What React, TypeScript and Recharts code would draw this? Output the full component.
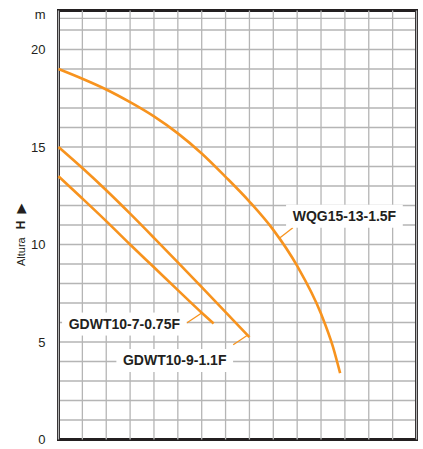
import {
  CartesianGrid,
  Line,
  LineChart,
  ReferenceArea,
  ReferenceDot,
  ReferenceLine,
  XAxis,
  YAxis,
} from "recharts";

// caudal steps (x) and altura H in m (y) for each pump curve
const wqgQ = [0, 1, 2, 3, 4, 5, 6, 7, 8, 9, 10, 11, 11.5, 11.8];
const wqgH = [19.0, 18.5, 17.95, 17.3, 16.57, 15.7, 14.67, 13.47, 12.2, 10.75, 8.9, 6.45, 4.75, 3.4];

const gd9Q = [0, 1, 2, 3, 4, 5, 6, 7, 8];
const gd9H = [15, 13.92, 12.78, 11.58, 10.34, 9.08, 7.81, 6.53, 5.25];

const gd7Q = [0, 1, 2, 3, 4, 5, 6, 6.5];
const gd7H = [13.5, 12.36, 11.2, 10.0, 8.83, 7.66, 6.5, 5.95];

const xTicks = [0, 1, 2, 3, 4, 5, 6, 7, 8, 9, 10, 11, 12, 13, 14, 15];
const yTicks = [0, 1, 2, 3, 4, 5, 6, 7, 8, 9, 10, 11, 12, 13, 14, 15, 16, 17, 18, 19, 20, 21, 21.6];
const yLabels = [0, 5, 10, 15, 20];
const unitLabel = "m";

const names = ["WQG15-13-1.5F", "GDWT10-9-1.1F", "GDWT10-7-0.75F"];

const ORANGE = "#f7931e";
const INK = "#231f20";
const GRID = "#b5b5b5";
const FONT = "'Liberation Sans', Arial, Helvetica, sans-serif";

const toPoints = (q: number[], h: number[]) => q.map((x, i) => ({ x, h: h[i] }));

const series = [
  { name: names[0], data: toPoints(wqgQ, wqgH) },
  { name: names[1], data: toPoints(gd9Q, gd9H) },
  { name: names[2], data: toPoints(gd7Q, gd7H) },
];

// callouts: label centre and leader segment, in data units
const callouts = [
  { text: names[0], at: [11.98, 11.45], leader: [[9.28, 10.35], [9.82, 10.86]] },
  { text: names[1], at: [4.87, 4.05], leader: [[7.32, 4.86], [7.95, 5.37]] },
  { text: names[2], at: [2.76, 5.92], leader: [[5.37, 5.97], [6.0, 6.49]] },
];

function YTick(props: any) {
  const { x, y, payload } = props;
  const v = payload.value;
  let txt = "";
  let dy = 0;
  if (v === 21.6) {
    txt = unitLabel;
    dy = -4;
  } else if (yLabels.includes(v)) {
    txt = String(v);
  }
  if (!txt) return null;
  return (
    <text x={x} y={y + dy} dy="0.35em" textAnchor="end" fontSize={13} fill={INK} fontFamily={FONT}>
      {txt}
    </text>
  );
}

function BoxLabel({ cx, cy, text }: { cx: number; cy: number; text: string }) {
  const w = text.length * 7.9 + 14;
  const h = 23;
  return (
    <g>
      <rect x={cx - w / 2} y={cy - h / 2} width={w} height={h} fill="#fff" />
      <text
        x={cx}
        y={cy}
        dy="0.35em"
        textAnchor="middle"
        fontSize={14}
        fontWeight="bold"
        fill={INK}
        fontFamily={FONT}
      >
        {text}
      </text>
    </g>
  );
}

function AxisTitle() {
  return (
    <text transform="translate(25, 266) rotate(-90)" fill={INK} fontFamily={FONT}>
      <tspan fontSize={11}>Altura</tspan>
      <tspan fontSize={12} fontWeight="bold" dx={8}>
        H
      </tspan>
      <tspan fontSize={13} dx={7} fontFamily="'DejaVu Sans', sans-serif">
        ▶
      </tspan>
    </text>
  );
}

export default function App() {
  return (
    <div style={{ position: "absolute", left: 0, top: 0, width: 423, height: 449, background: "#fff" }}>
      <LineChart width={423} height={449} margin={{ top: 10.5, right: 6.5, bottom: 8.5, left: 0 }}>
        <CartesianGrid stroke={GRID} strokeWidth={1.3} vertical={false} horizontalValues={yTicks} />
        <XAxis
          dataKey="x"
          type="number"
          domain={[0, 15]}
          ticks={xTicks}
          height={1}
          tick={false}
          axisLine={false}
          tickLine={false}
        />
        <YAxis
          type="number"
          domain={[0, 22]}
          ticks={yTicks}
          width={58.5}
          axisLine={false}
          tickLine={false}
          tickSize={0}
          tickMargin={13}
          interval={0}
          tick={<YTick />}
        />
        {xTicks.map((t) => (
          <ReferenceLine key={"v" + t} x={t} stroke={GRID} strokeWidth={1.3} />
        ))}
        {callouts.map((c) => (
          <ReferenceDot
            key={c.text}
            x={c.at[0]}
            y={c.at[1]}
            r={1}
            ifOverflow="visible"
            shape={(p: any) => <BoxLabel cx={p.cx} cy={p.cy} text={c.text} />}
          />
        ))}
        {callouts.map((c) => (
          <ReferenceLine
            key={c.text + "-leader"}
            segment={[
              { x: c.leader[0][0], y: c.leader[0][1] },
              { x: c.leader[1][0], y: c.leader[1][1] },
            ]}
            stroke={ORANGE}
            strokeWidth={1.3}
            ifOverflow="visible"
          />
        ))}
        {series.map((s) => (
          <Line
            key={s.name}
            data={s.data}
            dataKey="h"
            type="monotone"
            stroke={ORANGE}
            strokeWidth={2.6}
            dot={false}
            activeDot={false}
            isAnimationActive={false}
          />
        ))}
        <ReferenceArea x1={0} x2={15} y1={0} y2={22} fill="none" stroke={INK} strokeWidth={3} ifOverflow="visible" />
      </LineChart>
      <svg width={60} height={449} style={{ position: "absolute", left: 0, top: 0, pointerEvents: "none" }}>
        <AxisTitle />
      </svg>
    </div>
  );
}
